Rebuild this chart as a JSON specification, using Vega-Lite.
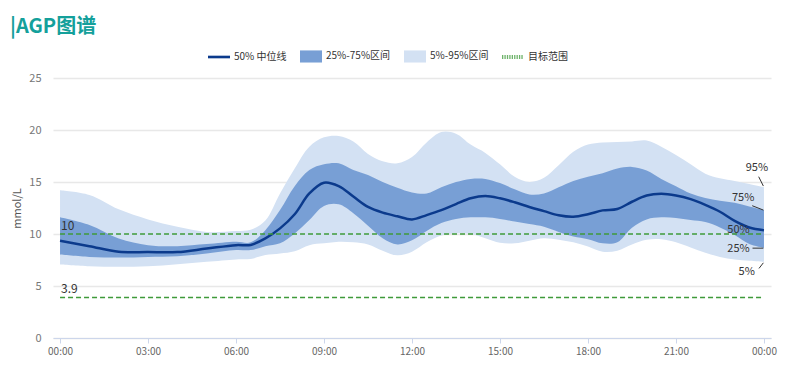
{
  "$schema": "https://vega.github.io/schema/vega-lite/v6.json",
  "width": 718,
  "height": 260,
  "autosize": {"type": "none"},
  "padding": {"left": 53, "top": 78, "right": 29, "bottom": 27},
  "background": "white",
  "config": {
    "view": {"stroke": null},
    "font": "Noto Sans CJK SC"
  },
  "title": {
    "text": "|AGP图谱",
    "anchor": "start",
    "frame": "group",
    "dx": -43,
    "dy": -8,
    "offset": 0,
    "fontSize": 20,
    "fontWeight": "bold",
    "color": "#14a09b",
    "font": "Noto Sans CJK SC"
  },
  "datasets": {
    "agp": [
      {"h": 0, "p5": 7.07, "p25": 8.03, "p50": 9.35, "p75": 11.6, "p95": 14.2},
      {"h": 1, "p5": 6.9, "p25": 7.8, "p50": 8.83, "p75": 10.86, "p95": 13.75},
      {"h": 2, "p5": 6.84, "p25": 7.74, "p50": 8.29, "p75": 9.57, "p95": 12.37},
      {"h": 3, "p5": 6.9, "p25": 7.8, "p50": 8.26, "p75": 8.93, "p95": 11.4},
      {"h": 4, "p5": 7.1, "p25": 7.87, "p50": 8.26, "p75": 8.83, "p95": 10.7},
      {"h": 5, "p5": 7.32, "p25": 8.13, "p50": 8.6, "p75": 9.03, "p95": 10.2},
      {"h": 6, "p5": 7.55, "p25": 8.45, "p50": 8.93, "p75": 9.25, "p95": 10.28},
      {"h": 6.5, "p5": 7.6, "p25": 8.45, "p50": 8.95, "p75": 9.2, "p95": 10.4},
      {"h": 7, "p5": 7.97, "p25": 8.83, "p50": 9.58, "p75": 10.37, "p95": 11.3},
      {"h": 7.5, "p5": 8.13, "p25": 9.1, "p50": 10.54, "p75": 12.3, "p95": 13.9},
      {"h": 8, "p5": 8.35, "p25": 10.05, "p50": 11.9, "p75": 14.6, "p95": 16.3},
      {"h": 8.5, "p5": 8.93, "p25": 11.34, "p50": 13.9, "p75": 16.15, "p95": 18.4},
      {"h": 9, "p5": 9.1, "p25": 12.69, "p50": 14.93, "p75": 16.7, "p95": 19.3},
      {"h": 9.5, "p5": 9.25, "p25": 12.85, "p50": 14.6, "p75": 16.8, "p95": 19.43},
      {"h": 10, "p5": 9.2, "p25": 12.0, "p50": 13.6, "p75": 16.15, "p95": 18.9},
      {"h": 10.5, "p5": 9.0, "p25": 10.8, "p50": 12.6, "p75": 15.67, "p95": 17.7},
      {"h": 11, "p5": 8.4, "p25": 9.6, "p50": 12.05, "p75": 15.0, "p95": 17.0},
      {"h": 11.5, "p5": 7.95, "p25": 9.0, "p50": 11.7, "p75": 14.45, "p95": 16.8},
      {"h": 12, "p5": 8.3, "p25": 9.4, "p50": 11.4, "p75": 14.0, "p95": 17.4},
      {"h": 12.5, "p5": 9.2, "p25": 10.3, "p50": 11.82, "p75": 13.9, "p95": 18.8},
      {"h": 13, "p5": 9.85, "p25": 11.05, "p50": 12.3, "p75": 14.5, "p95": 19.8},
      {"h": 13.5, "p5": 10.05, "p25": 11.45, "p50": 12.88, "p75": 15.0, "p95": 19.65},
      {"h": 14, "p5": 10.0, "p25": 11.6, "p50": 13.43, "p75": 15.3, "p95": 18.6},
      {"h": 14.5, "p5": 9.6, "p25": 11.6, "p50": 13.65, "p75": 15.3, "p95": 17.8},
      {"h": 15, "p5": 9.15, "p25": 11.45, "p50": 13.43, "p75": 14.9, "p95": 16.7},
      {"h": 15.5, "p5": 9.1, "p25": 11.2, "p50": 13.05, "p75": 14.3, "p95": 15.5},
      {"h": 16, "p5": 9.35, "p25": 10.95, "p50": 12.6, "p75": 13.8, "p95": 15.0},
      {"h": 16.5, "p5": 9.6, "p25": 10.7, "p50": 12.2, "p75": 13.9, "p95": 15.4},
      {"h": 17, "p5": 9.45, "p25": 10.2, "p50": 11.8, "p75": 14.5, "p95": 16.6},
      {"h": 17.5, "p5": 9.2, "p25": 9.75, "p50": 11.66, "p75": 15.1, "p95": 17.9},
      {"h": 18, "p5": 8.8, "p25": 9.5, "p50": 11.9, "p75": 15.5, "p95": 18.6},
      {"h": 18.5, "p5": 8.3, "p25": 9.1, "p50": 12.27, "p75": 15.85, "p95": 18.8},
      {"h": 19, "p5": 8.4, "p25": 9.2, "p50": 12.4, "p75": 16.3, "p95": 18.85},
      {"h": 19.5, "p5": 9.0, "p25": 10.6, "p50": 13.1, "p75": 16.45, "p95": 18.9},
      {"h": 20, "p5": 9.45, "p25": 11.4, "p50": 13.7, "p75": 16.1, "p95": 18.98},
      {"h": 20.5, "p5": 9.5, "p25": 11.6, "p50": 13.86, "p75": 15.3, "p95": 18.4},
      {"h": 21, "p5": 9.2, "p25": 11.55, "p50": 13.7, "p75": 14.6, "p95": 17.6},
      {"h": 21.5, "p5": 8.7, "p25": 11.35, "p50": 13.35, "p75": 13.9, "p95": 16.7},
      {"h": 22, "p5": 8.2, "p25": 11.15, "p50": 12.8, "p75": 13.45, "p95": 15.8},
      {"h": 22.5, "p5": 7.8, "p25": 10.63, "p50": 12.14, "p75": 13.2, "p95": 15.35},
      {"h": 23, "p5": 7.55, "p25": 9.9, "p50": 11.27, "p75": 13.0, "p95": 15.1},
      {"h": 23.5, "p5": 7.42, "p25": 9.03, "p50": 10.63, "p75": 12.65, "p95": 14.8},
      {"h": 24, "p5": 7.32, "p25": 8.67, "p50": 10.37, "p75": 12.3, "p95": 14.49}
    ],
    "targets": [
      {"v": 10, "x0": 0, "x1": 24, "label": "10"},
      {"v": 3.9, "x0": 0, "x1": 24, "label": "3.9"}
    ],
    "plabels": [
      {"t": "95%", "h": 23.76, "v": 16.35},
      {"t": "75%", "h": 23.29, "v": 13.43},
      {"t": "50%", "h": 23.13, "v": 10.38},
      {"t": "25%", "h": 23.13, "v": 8.55},
      {"t": "5%", "h": 23.41, "v": 6.3}
    ],
    "leaders": [
      {"ha": 23.82, "va": 15.51, "hb": 23.98, "vb": 14.61},
      {"ha": 23.6, "va": 12.72, "hb": 23.98, "vb": 12.3},
      {"ha": 23.61, "va": 8.64, "hb": 23.98, "vb": 8.64},
      {"ha": 23.83, "va": 6.69, "hb": 23.98, "vb": 7.23}
    ],
    "legenditems": [
      {"name": "50% 中位线"},
      {"name": "25%-75%区间"},
      {"name": "5%-95%区间"},
      {"name": "目标范围"}
    ]
  },
  "layer": [
    {
      "data": {"name": "agp"},
      "mark": {"type": "area", "interpolate": "catmull-rom", "opacity": 1},
      "encoding": {
        "x": {
          "field": "h", "type": "quantitative",
          "scale": {"domain": [-0.24, 24.24], "nice": false, "zero": false},
          "axis": {
            "values": [0, 3, 6, 9, 12, 15, 18, 21, 24],
            "labelExpr": "(datum.value % 24 < 10 ? '0' : '') + (datum.value % 24) + ':00'",
            "title": null, "grid": false,
            "domainColor": "#ccd6eb", "tickColor": "#ccd6eb", "tickSize": 5,
            "labelFontSize": 10, "labelColor": "#666", "labelPadding": 3,
            "labelFlush": false, "labelOverlap": false
          }
        },
        "y": {
          "field": "p5", "type": "quantitative",
          "scale": {"domain": [0, 25], "nice": false},
          "axis": {
            "values": [0, 5, 10, 15, 20, 25],
            "title": "mmol/L", "titleFontSize": 11, "titleFontWeight": "normal",
            "titleColor": "#555", "titlePadding": 6,
            "labelFontSize": 11, "labelColor": "#777", "labelPadding": 12,
            "domain": false, "ticks": false,
            "gridColor": "#e8e8e8", "gridWidth": 1.5
          }
        },
        "y2": {"field": "p95"},
        "color": {
          "datum": "5%-95%区间", "type": "nominal",
          "scale": {
            "domain": ["50% 中位线", "25%-75%区间", "5%-95%区间", "目标范围"],
            "range": ["#0b3a8c", "#789fd5", "#d3e1f3", "#3f9a3a"]
          }
        }
      }
    },
    {
      "data": {"name": "agp"},
      "mark": {"type": "area", "interpolate": "catmull-rom", "opacity": 1},
      "encoding": {
        "x": {"field": "h", "type": "quantitative"},
        "y": {"field": "p25", "type": "quantitative"},
        "y2": {"field": "p75"},
        "color": {"datum": "25%-75%区间", "type": "nominal"}
      }
    },
    {
      "data": {"name": "agp"},
      "mark": {"type": "line", "interpolate": "catmull-rom", "strokeWidth": 2.5},
      "encoding": {
        "x": {"field": "h", "type": "quantitative"},
        "y": {"field": "p50", "type": "quantitative"},
        "color": {"datum": "50% 中位线", "type": "nominal"}
      }
    },
    {
      "data": {"name": "targets"},
      "mark": {"type": "rule", "strokeDash": [5, 3], "strokeWidth": 1.5},
      "encoding": {
        "x": {"field": "x0", "type": "quantitative"},
        "x2": {"field": "x1"},
        "y": {"field": "v", "type": "quantitative"},
        "color": {"datum": "目标范围", "type": "nominal"}
      }
    },
    {
      "data": {"name": "targets"},
      "mark": {"type": "text", "align": "left", "baseline": "bottom", "dx": 1, "dy": -1, "fontSize": 12, "color": "#333"},
      "encoding": {
        "x": {"field": "x0", "type": "quantitative"},
        "y": {"field": "v", "type": "quantitative"},
        "text": {"field": "label"}
      }
    },
    {
      "data": {"name": "plabels"},
      "mark": {"type": "text", "align": "center", "baseline": "middle", "fontSize": 11, "color": "#333"},
      "encoding": {
        "x": {"field": "h", "type": "quantitative"},
        "y": {"field": "v", "type": "quantitative"},
        "text": {"field": "t"}
      }
    },
    {
      "data": {"name": "leaders"},
      "mark": {"type": "rule", "color": "#333", "strokeWidth": 1},
      "encoding": {
        "x": {"field": "ha", "type": "quantitative"},
        "y": {"field": "va", "type": "quantitative"},
        "x2": {"field": "hb"},
        "y2": {"field": "vb"}
      }
    },
    {
      "data": {"name": "legenditems"},
      "mark": {"type": "point", "filled": true, "opacity": 0, "size": 1},
      "encoding": {
        "x": {"datum": 12, "type": "quantitative"},
        "y": {"datum": 12, "type": "quantitative"},
        "color": {
          "field": "name", "type": "nominal",
          "scale": {
            "domain": ["50% 中位线", "25%-75%区间", "5%-95%区间", "目标范围"],
            "range": ["#0b3a8c", "#789fd5", "#d3e1f3", "#3f9a3a"]
          },
          "legend": {
            "orient": "none", "legendX": 155, "legendY": -33,
            "direction": "horizontal", "title": null,
            "symbolSize": 484, "symbolOpacity": 1, "symbolStrokeWidth": 0,
            "labelFontSize": 10, "labelColor": "#333",
            "labelOffset": 4, "columnPadding": 13
          }
        },
        "shape": {
          "field": "name", "type": "nominal",
          "scale": {
            "domain": ["50% 中位线", "25%-75%区间", "5%-95%区间", "目标范围"],
            "range": [
              "M-1,-0.12H1V0.12H-1Z",
              "M-1,-0.55H1V0.55H-1Z",
              "M-1,-0.55H1V0.55H-1Z",
              "M-1,-0.17h0.12v0.14h-0.12Z M-1,0.03h0.12v0.14h-0.12Z M-0.78,-0.17h0.12v0.14h-0.12Z M-0.78,0.03h0.12v0.14h-0.12Z M-0.56,-0.17h0.12v0.14h-0.12Z M-0.56,0.03h0.12v0.14h-0.12Z M-0.34,-0.17h0.12v0.14h-0.12Z M-0.34,0.03h0.12v0.14h-0.12Z M-0.12,-0.17h0.12v0.14h-0.12Z M-0.12,0.03h0.12v0.14h-0.12Z M0.1,-0.17h0.12v0.14h-0.12Z M0.1,0.03h0.12v0.14h-0.12Z M0.32,-0.17h0.12v0.14h-0.12Z M0.32,0.03h0.12v0.14h-0.12Z M0.54,-0.17h0.12v0.14h-0.12Z M0.54,0.03h0.12v0.14h-0.12Z M0.76,-0.17h0.12v0.14h-0.12Z M0.76,0.03h0.12v0.14h-0.12Z"
            ]
          }
        }
      }
    }
  ]
}
